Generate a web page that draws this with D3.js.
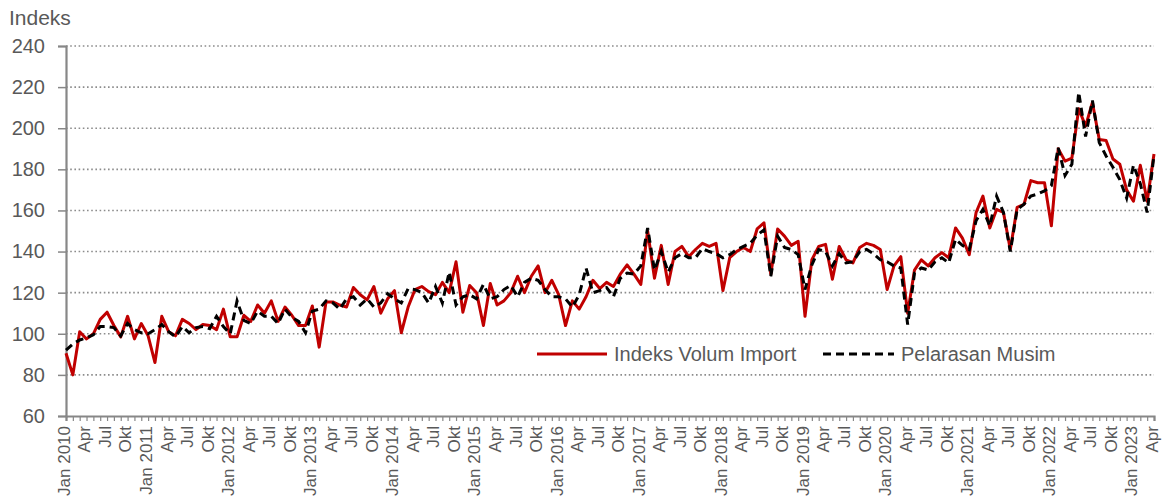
<!DOCTYPE html>
<html>
<head>
<meta charset="utf-8">
<script src="https://cdn.jsdelivr.net/npm/d3@7"></script>
<style>
  body { margin: 0; background: #fff; }
  text { font-family: "Liberation Sans", Arial, sans-serif; fill: #595959; }
</style>
</head>
<body>
<div id="chart"></div>
<script>
var svgWidth = 1162;
var svgHeight = 499;

var margin = { top: 46, right: 8, bottom: 83, left: 66 };

var width = svgWidth - margin.left - margin.right;
var height = svgHeight - margin.top - margin.bottom;

// monthly series, Jan 2010 - Apr 2023
var years = [2010, 2011, 2012, 2013, 2014, 2015, 2016, 2017, 2018, 2019, 2020, 2021, 2022, 2023];
var monthNames = ["Jan", "Feb", "Mac", "Apr", "Mei", "Jun", "Jul", "Ogo", "Sep", "Okt", "Nov", "Dis"];
var tickMonths = ["Jan", "Apr", "Jul", "Okt"];
var yTicks = [60, 80, 100, 120, 140, 160, 180, 200, 220, 240];

var importIndex = [
  90.5, 80, 101, 97.5, 100, 107, 110.5, 104, 98.5, 108.5, 97.5, 105,
  99, 86, 108.5, 101, 99, 107, 105, 102, 104.5, 104, 102, 112,
  98.5, 98.5, 109, 106, 114, 110, 116, 106, 113, 109, 104, 104,
  113.5, 93.5, 115.5, 115.5, 114, 113, 122.5, 119, 116.5, 123, 110, 117,
  121, 100.5, 113, 121.5, 123, 120.5, 119, 125, 120, 135, 110.5, 123.5,
  120, 104, 124.5, 114, 116, 120, 128, 120, 128, 133, 120, 126,
  119, 104, 116, 112, 118, 126, 122, 125, 123, 129, 133.5, 129,
  124, 150, 127, 143, 124, 140, 142.5, 137.5, 141, 144, 142.5, 144,
  121, 137, 140, 142, 140, 151, 154, 129, 151, 147.5, 143, 145,
  108.5, 136, 142.5, 143.5, 126.5, 142.5, 136, 134.5, 142, 144, 143, 141,
  121.5, 133, 137.5, 110, 131, 136, 133, 137, 139.5, 137, 151.5, 146.5,
  138.5, 159, 167, 151.5, 160.5, 159, 141, 161.5, 163, 174.5, 173.5, 173.5,
  152.5, 190, 184, 185.5, 209.5, 201, 212.5, 194.5, 194, 185, 182.5, 170,
  164.5, 182, 164.5, 187.5
];

var seasonAdj = [
  92, 95, 97, 98, 99.5, 103.5, 103.5, 103, 99, 105, 102, 100.5,
  100, 102, 104.5, 101, 98.5, 103.5, 100.5, 103, 103.5, 102.5, 108.5, 103.5,
  100, 116, 106.5, 105, 111, 108.5, 108.5, 105, 112, 108, 106, 100.5,
  111, 112, 116, 115, 112, 117, 118, 114, 117, 113, 115, 119.5,
  117, 115, 122, 121.5, 120, 115, 123, 115, 130, 114, 118, 119,
  117, 124, 117, 118, 121.5, 123.5, 118, 125, 127, 126, 121.5, 118,
  118, 117, 113, 119, 132, 120, 121, 122.5, 118, 127, 129.5, 129,
  133, 151.5, 131, 140, 130, 137, 139, 137, 137, 141.5, 140, 139,
  137, 138.5, 141, 142.5, 144, 148, 150.5, 128, 147.5, 142, 141, 138.5,
  121.5, 133.5, 141, 140, 133, 139, 134.5, 135, 140, 141, 139, 136,
  135, 133, 132, 104.5, 129.5, 132, 131, 135, 137, 134.5, 146, 143,
  141, 155, 160.5, 152.5, 167, 159, 140, 160.5, 163, 167, 168, 169.5,
  172, 190.5, 177, 182.5, 217.5, 196, 213.5, 193, 186.5, 181, 175, 166,
  182, 173, 159, 187
];

// category keys like "Jan 2010"
var categories = [];
years.forEach(function(y) {
  monthNames.forEach(function(m) {
    if (categories.length < importIndex.length) categories.push(m + " " + y);
  });
});

var svg = d3.select("#chart")
  .append("svg")
  .attr("width", svgWidth)
  .attr("height", svgHeight);

var chartGroup = svg.append("g")
  .attr("transform", `translate(${margin.left}, ${margin.top})`);

var xScale = d3.scalePoint()
  .domain(categories)
  .range([0, width]);

var yScale = d3.scaleLinear()
  .domain([60, 240])
  .range([height, 0]);

// dotted gridlines
chartGroup.append("g")
  .selectAll("line")
  .data(yTicks.slice(1))
  .enter()
  .append("line")
  .attr("x1", 0)
  .attr("x2", width)
  .attr("y1", d => yScale(d))
  .attr("y2", d => yScale(d))
  .attr("stroke", "#8c8c8c")
  .attr("stroke-width", 1.6)
  .attr("stroke-dasharray", "1.6,2.6");

// y axis
var leftAxis = d3.axisLeft(yScale)
  .tickValues(yTicks)
  .tickSize(8)
  .tickPadding(13);

var yAxis = chartGroup.append("g").call(leftAxis);
yAxis.select(".domain").attr("stroke", "#878787").attr("stroke-width", 2.2);
yAxis.selectAll(".tick line").attr("stroke", "#878787").attr("stroke-width", 1.5);
yAxis.selectAll("text")
  .style("font-size", "20px")
  .attr("fill", "#595959");

// x axis, tick every month, label every quarter
var bottomAxis = d3.axisBottom(xScale)
  .tickSize(5)
  .tickFormat(function(d) {
    var m = d.split(" ")[0];
    if (tickMonths.indexOf(m) < 0) return "";
    return m === "Jan" ? d : m;
  });

var xAxis = chartGroup.append("g")
  .attr("transform", `translate(0, ${height})`)
  .call(bottomAxis);
xAxis.select(".domain").attr("stroke", "#878787").attr("stroke-width", 2.2);
xAxis.selectAll(".tick line").attr("stroke", "#878787").attr("stroke-width", 1.2);
xAxis.selectAll("text")
  .style("font-size", "17px")
  .attr("fill", "#595959")
  .attr("text-anchor", "end")
  .attr("transform", "rotate(-90)")
  .attr("x", -10)
  .attr("y", 0)
  .attr("dy", "0.2em");

// lines
var lineGen = d3.line()
  .x((d, i) => xScale(categories[i]))
  .y(d => yScale(d));

chartGroup.append("path")
  .datum(importIndex)
  .attr("fill", "none")
  .attr("stroke", "#c00000")
  .attr("stroke-width", 3)
  .attr("stroke-linejoin", "round")
  .attr("d", lineGen);

chartGroup.append("path")
  .datum(seasonAdj)
  .attr("fill", "none")
  .attr("stroke", "#000")
  .attr("stroke-width", 3)
  .attr("stroke-dasharray", "8,5")
  .attr("d", lineGen);

// axis title
svg.append("text")
  .attr("x", 9)
  .attr("y", 25)
  .style("font-size", "21px")
  .text("Indeks");

// legend
var legend = svg.append("g");

legend.append("line")
  .attr("x1", 537).attr("x2", 607)
  .attr("y1", 354).attr("y2", 354)
  .attr("stroke", "#c00000")
  .attr("stroke-width", 3);

legend.append("text")
  .attr("x", 614).attr("y", 361)
  .style("font-size", "20px")
  .text("Indeks Volum Import");

legend.append("line")
  .attr("x1", 823).attr("x2", 894)
  .attr("y1", 354).attr("y2", 354)
  .attr("stroke", "#000")
  .attr("stroke-width", 3)
  .attr("stroke-dasharray", "8,5");

legend.append("text")
  .attr("x", 901).attr("y", 361)
  .style("font-size", "20px")
  .text("Pelarasan Musim");
</script>
</body>
</html>
